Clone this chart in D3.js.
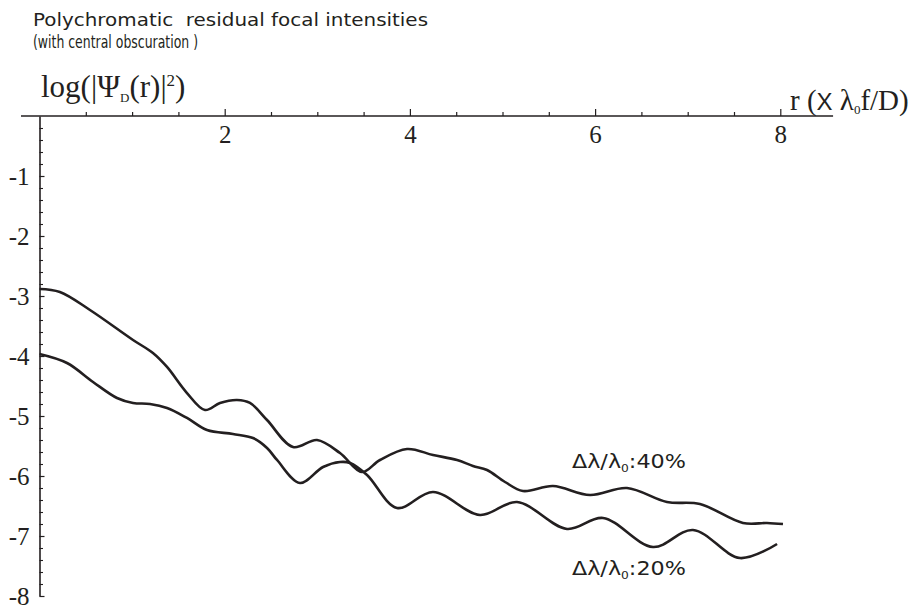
<!DOCTYPE html>
<html>
<head>
<meta charset="utf-8">
<script src="https://cdn.jsdelivr.net/npm/d3@7"></script>
<style>
  html, body { margin: 0; padding: 0; background: #fff; }
  svg { display: block; }
</style>
</head>
<body>
<svg id="chart" width="911" height="610"></svg>
<script>
// ---- data ----
const titleLines = ["Polychromatic  residual focal intensities", "(with central obscuration )"];
const xTickValues = [2, 4, 6, 8];
const yTickValues = [-1, -2, -3, -4, -5, -6, -7, -8];

// Δλ/λ0 = 40 %
const r40 = [0, 0.22, 0.545, 1.01, 1.225, 1.377, 1.593, 1.787, 1.949, 2.133, 2.273, 2.457, 2.738, 2.997, 3.245, 3.483, 3.677, 3.969, 4.25, 4.509, 4.681, 4.833, 5.027, 5.221, 5.545, 5.945, 6.344, 6.776, 7.132, 7.597, 7.856, 8.029];
const logI40 = [-2.883, -2.933, -3.233, -3.733, -3.95, -4.183, -4.617, -4.9, -4.783, -4.733, -4.783, -5.067, -5.517, -5.4, -5.617, -5.933, -5.733, -5.55, -5.65, -5.733, -5.833, -5.9, -6.1, -6.25, -6.167, -6.317, -6.2, -6.433, -6.467, -6.783, -6.783, -6.8];

// Δλ/λ0 = 20 %
const r20 = [0, 0.297, 0.578, 0.837, 1.01, 1.193, 1.377, 1.593, 1.809, 2.089, 2.305, 2.457, 2.565, 2.813, 3.062, 3.245, 3.353, 3.537, 3.861, 4.25, 4.757, 5.157, 5.697, 6.085, 6.625, 7.057, 7.565, 7.965];
const logI20 = [-3.967, -4.117, -4.433, -4.7, -4.783, -4.8, -4.867, -5.033, -5.233, -5.3, -5.367, -5.533, -5.733, -6.117, -5.85, -5.767, -5.783, -5.983, -6.533, -6.267, -6.65, -6.433, -6.883, -6.7, -7.183, -6.9, -7.367, -7.133];

const seriesLabels = ["40%", "20%"];

// ---- drawing ----
const svg = d3.select("#chart");
const ink = "#231f20";

const x = d3.scaleLinear().domain([0, 8]).range([39.5, 780.3]);
const y = d3.scaleLinear().domain([0, -8]).range([116, 596]);

// title
svg.selectAll("text.title").data(titleLines).enter().append("text")
  .attr("class", "title")
  .attr("x", 33).attr("y", (d, i) => 26 + i * 22)
  .attr("font-family", "'DejaVu Sans', sans-serif")
  .attr("font-size", 18)
  .attr("fill", ink)
  .style("white-space", "pre")
  .attr("textLength", (d, i) => i === 0 ? 395 : 165)
  .attr("lengthAdjust", "spacingAndGlyphs")
  .text(d => d);

// x axis line (full extent)
svg.append("line")
  .attr("x1", x(-0.2)).attr("x2", x(8.57))
  .attr("y1", y(0)).attr("y2", y(0))
  .attr("stroke", ink).attr("stroke-width", 1.6);

// x minor ticks
const xMinor = d3.range(1, 17).map(d => d / 2).filter(d => !xTickValues.includes(d));
svg.append("g").attr("transform", `translate(0,${y(0)})`)
  .call(d3.axisBottom(x).tickValues(xMinor).tickSize(-4).tickFormat(""))
  .call(g => g.select(".domain").remove())
  .call(g => g.selectAll("line").attr("stroke", ink).attr("stroke-width", 1.2));

// x major ticks + labels
svg.append("g").attr("transform", `translate(0,${y(0)})`)
  .call(d3.axisBottom(x).tickValues(xTickValues).tickSize(-7).tickPadding(9).tickFormat(d => String(d)))
  .call(g => g.select(".domain").remove())
  .call(g => g.selectAll("line").attr("stroke", ink).attr("stroke-width", 1.2))
  .call(g => g.selectAll("text").attr("font-family", "'Liberation Serif', serif").attr("font-size", 25).attr("fill", ink));

// y minor ticks
const yMinor = d3.range(1, 41).map(d => -d / 5).filter(d => Math.abs(d - Math.round(d)) > 1e-6);
svg.append("g").attr("transform", `translate(${x(0)},0)`)
  .call(d3.axisLeft(y).tickValues(yMinor).tickSize(-3.5).tickFormat("").tickSizeOuter(0))
  .call(g => g.select(".domain").attr("stroke", ink).attr("stroke-width", 1.6))
  .call(g => g.selectAll(".tick line").attr("stroke", ink).attr("stroke-width", 1.1));

// y major ticks + labels
svg.append("g").attr("transform", `translate(${x(0)},0)`)
  .call(d3.axisLeft(y).tickValues(yTickValues).tickSize(-5).tickPadding(10).tickFormat(d => String(d)))
  .call(g => g.select(".domain").remove())
  .call(g => g.selectAll("line").attr("stroke", ink).attr("stroke-width", 1.2))
  .call(g => g.selectAll("text").attr("font-family", "'Liberation Serif', serif").attr("font-size", 25).attr("fill", ink));

// y axis label  log(|Ψ_D(r)|²)
const yl = svg.append("text").attr("x", 41).attr("y", 97)
  .attr("font-family", "'Liberation Serif', serif").attr("font-size", 31).attr("fill", ink);
yl.append("tspan").text("log(|Ψ");
yl.append("tspan").attr("font-size", 13).attr("dy", 5).text("D");
yl.append("tspan").attr("dy", -5).text("(r)|");
yl.append("tspan").attr("font-size", 17).attr("dy", -11).text("2");
yl.append("tspan").attr("dy", 11).text(")");

// x axis label  r (X λ0f/D)
const xl = svg.append("text").attr("x", 790).attr("y", 110)
  .attr("font-family", "'Liberation Serif', serif").attr("font-size", 29).attr("fill", ink)
  .style("white-space", "pre");
xl.append("tspan").text("r (");
xl.append("tspan").attr("font-family", "'Liberation Sans', sans-serif").attr("font-size", 24).text("X");
xl.append("tspan").text(" λ");
xl.append("tspan").attr("font-size", 13).attr("dy", 4).text("0");
xl.append("tspan").attr("dy", -4).text("f/D)");

// curves
const line = d3.line().x(d => x(d[0])).y(d => y(d[1])).curve(d3.curveCatmullRom.alpha(0.5));
const series = [d3.zip(r40, logI40), d3.zip(r20, logI20)];
svg.selectAll("path.curve").data(series).enter().append("path")
  .attr("class", "curve")
  .attr("d", line)
  .attr("fill", "none")
  .attr("stroke", ink)
  .attr("stroke-width", 2.6)
  .attr("stroke-linejoin", "round");

// curve labels
const labelPos = [[5.75, -5.87], [5.75, -7.65]];
seriesLabels.forEach((lab, i) => {
  const t = svg.append("text")
    .attr("x", x(labelPos[i][0])).attr("y", y(labelPos[i][1]))
    .attr("font-family", "'DejaVu Sans', sans-serif").attr("font-size", 20).attr("fill", ink)
    .attr("textLength", 114).attr("lengthAdjust", "spacingAndGlyphs");
  t.append("tspan").text("Δλ/λ");
  t.append("tspan").attr("font-size", 11).attr("dy", 4).text("0");
  t.append("tspan").attr("dy", -4).text(":" + lab);
});
</script>
</body>
</html>
